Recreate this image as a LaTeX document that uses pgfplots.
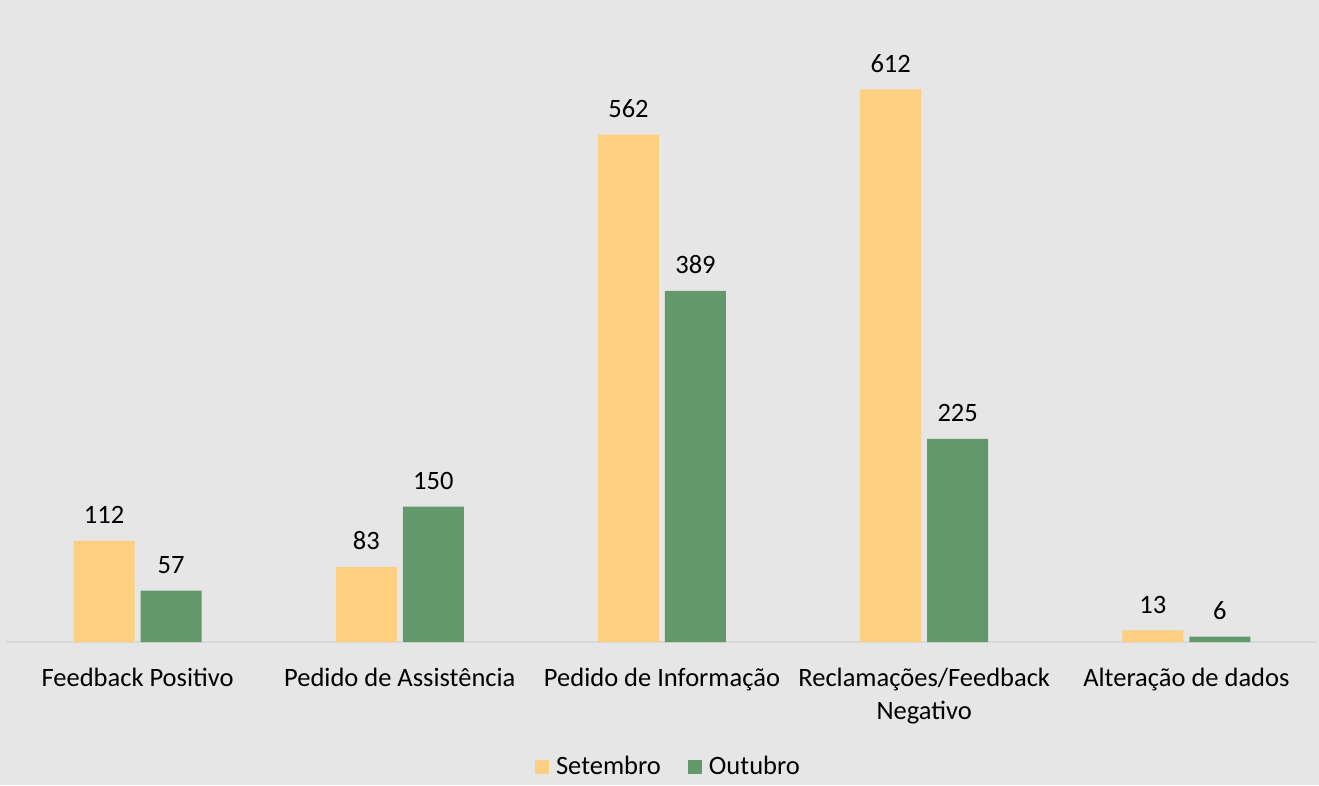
\documentclass[border=0pt]{standalone}
\usepackage{pgfplots}
\pgfplotsset{compat=1.18}
\usepackage{fontspec}
\setmainfont{Carlito}
\definecolor{bg}{RGB}{231,230,230}
\definecolor{sety}{RGB}{252,208,128}
\definecolor{outg}{RGB}{99,152,107}
\definecolor{axl}{RGB}{217,217,217}
\begin{document}
\begin{tikzpicture}[font=\fontsize{13.25}{16.5}\selectfont]
\fill[bg] (0,0) rectangle (659.5pt,392.5pt);
\begin{axis}[
  at={(3.25pt,71.5pt)}, anchor=south west,
  scale only axis, width=655.5pt, height=316pt,
  ybar=3pt, bar width=30.5pt,
  xmin=-0.5, xmax=4.5, ymin=0, ymax=700,
  axis x line=bottom, axis y line=none,
  x axis line style={draw=axl, line width=0.8pt, -},
  xtick=data, major tick length=0pt,
  xticklabels={Feedback Positivo, Pedido de Assistência, Pedido de Informação, {Reclamações/Feedback\\Negativo}, Alteração de dados},
  xticklabel style={align=center, yshift=-9.5pt},
  ytick=\empty,
  /pgf/number format/assume math mode=true,
  nodes near coords,
  every node near coord/.append style={text=black, yshift=5pt},
  legend style={at={(0.5057,-0.198)}, anchor=center, draw=none, fill=none, legend columns=2,
    /tikz/every even column/.append style={column sep=11.5pt},
    /tikz/every odd column/.append style={column sep=1.5pt}},
  legend image code/.code={\fill[#1] (0pt,-3.5pt) rectangle (7pt,3.5pt);},
  axis background/.style={fill=none},
]
\addplot[fill=sety, draw=none] coordinates {(0,112) (1,83) (2,562) (3,612) (4,13)};
\addplot[fill=outg, draw=none] coordinates {(0,57) (1,150) (2,389) (3,225) (4,6)};
\legend{Setembro, Outubro}
\end{axis}
\end{tikzpicture}
\end{document}
